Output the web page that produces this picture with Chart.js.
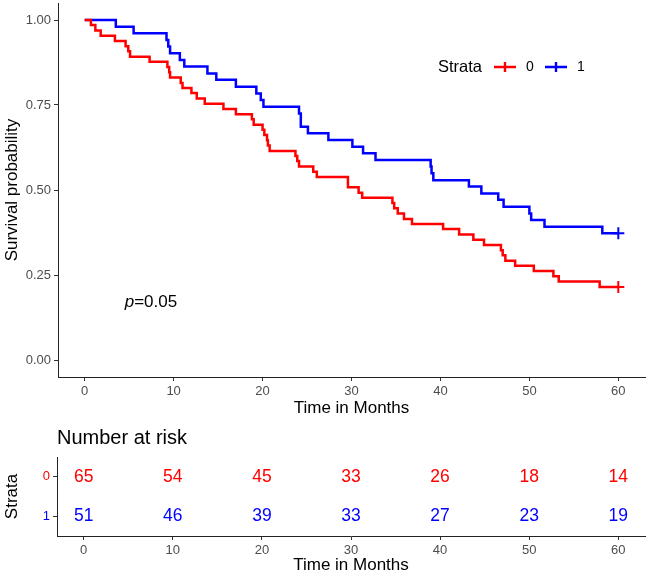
<!DOCTYPE html>
<html>
<head>
<meta charset="utf-8">
<script src="https://cdn.jsdelivr.net/npm/chart.js@4.4.1/dist/chart.umd.min.js"></script>
<style>
  html, body { margin: 0; padding: 0; background: #fff; }
  .box { position: relative; width: 649px; }
</style>
</head>
<body>
<div class="box" style="height:420px"><canvas id="kmChart"></canvas></div>
<div class="box" style="height:156px"><canvas id="riskChart"></canvas></div>
<script>
const strataNames = ["0", "1"];
const strataColors = ["#FF0000", "#0000FF"];

// strata 0: time of each step (months) and survival after it
const timesStrata0 = [0, 0.7, 1.2, 1.8, 3.4, 4.6, 4.9, 5.1, 7.3, 9.3, 9.5, 9.6, 10.8, 11.0, 12.0, 12.6, 13.5, 15.6, 17.0, 18.8, 19.0,
  20.0, 20.2, 20.5, 20.6, 20.8, 23.7, 23.9, 24.1, 25.7, 26.1, 29.6, 30.8, 31.2, 34.6, 34.8, 35.2, 35.9, 36.8,
  40.3, 42.1, 43.7, 44.9, 46.8, 47.0, 47.3, 48.4, 50.5, 52.7, 53.3, 57.9, 60];
const survStrata0 = [1, 0.985, 0.969, 0.954, 0.938, 0.923, 0.908, 0.892, 0.877, 0.862, 0.846, 0.831, 0.815, 0.800, 0.785, 0.769, 0.754, 0.738, 0.723, 0.708, 0.692,
  0.677, 0.662, 0.646, 0.631, 0.615, 0.600, 0.585, 0.569, 0.554, 0.538, 0.508, 0.492, 0.477, 0.462, 0.446, 0.431, 0.415, 0.400,
  0.385, 0.369, 0.354, 0.338, 0.323, 0.308, 0.292, 0.277, 0.262, 0.246, 0.231, 0.215, 0.215];

// strata 1
const timesStrata1 = [0, 3.5, 5.5, 9.2, 9.4, 9.6, 10.7, 11.2, 13.8, 14.8, 17.0, 19.3, 19.8, 20.1, 24.1, 24.3, 25.1, 27.4,
  30.1, 31.3, 32.7, 38.9, 39.0, 39.2, 43.2, 44.6, 46.5, 47.1, 50.0, 50.2, 51.7, 58.2, 60];
const survStrata1 = [1, 0.980, 0.961, 0.941, 0.922, 0.902, 0.882, 0.863, 0.843, 0.824, 0.804, 0.784, 0.765, 0.745, 0.725, 0.686, 0.667, 0.647,
  0.627, 0.608, 0.588, 0.569, 0.549, 0.529, 0.510, 0.490, 0.471, 0.451, 0.431, 0.412, 0.392, 0.373, 0.373];

const xTicks = [0, 10, 20, 30, 40, 50, 60];
const yTicks = [0, 0.25, 0.5, 0.75, 1];
const yTickLabels = ["0.00", "0.25", "0.50", "0.75", "1.00"];

// number at risk table
const riskTimes = [0, 10, 20, 30, 40, 50, 60];
const riskStrata0 = [65, 54, 45, 33, 26, 18, 14];
const riskStrata1 = [51, 46, 39, 33, 27, 23, 19];

const pValue = "0.05";

const FONT = "'Liberation Sans', Arial, sans-serif";
Chart.defaults.font.family = FONT;

const tickColor = "#4D4D4D";
const axisLine = { display: true, color: "#222", width: 1 };
const tickMarks = { display: true, drawOnChartArea: false, drawTicks: true, tickLength: 4, color: "#333", lineWidth: 1, offset: false };

function toPoints(times, surv) {
  return times.map((t, i) => ({ x: t, y: surv[i] }));
}

function lastOnly(size) {
  return ctx => ctx.dataIndex === ctx.dataset.data.length - 1 ? size : 0;
}

function xScale(height, titlePad) {
  return {
    type: "linear",
    min: -3,
    max: 63,
    afterBuildTicks: s => { s.ticks = xTicks.map(v => ({ value: v })); },
    afterFit: s => { s.height = height; s.paddingLeft = 0; s.paddingRight = 0; },
    border: axisLine,
    grid: tickMarks,
    ticks: { color: tickColor, font: { size: 13 }, padding: 3, maxRotation: 0 },
    title: { display: true, text: "Time in Months", color: "#000", font: { size: 17 }, padding: { top: 0, bottom: titlePad } }
  };
}

// legend + p-value drawn inside the plot
const kmExtras = {
  id: "kmExtras",
  afterDraw(chart) {
    const ctx = chart.ctx;
    ctx.save();
    ctx.textBaseline = "middle";
    ctx.textAlign = "left";
    ctx.fillStyle = "#000";
    ctx.font = "16.5px " + FONT;
    const ly = 67;
    ctx.fillText("Strata", 438, ly);

    const keyX = [494, 545];
    ctx.font = "14px " + FONT;
    strataNames.forEach((name, k) => {
      const x0 = keyX[k];
      ctx.strokeStyle = strataColors[k];
      ctx.lineWidth = 2.4;
      ctx.beginPath();
      ctx.moveTo(x0, ly);
      ctx.lineTo(x0 + 22, ly);
      ctx.moveTo(x0 + 11, ly - 5);
      ctx.lineTo(x0 + 11, ly + 5);
      ctx.stroke();
      ctx.fillStyle = "#000";
      ctx.fillText(name, x0 + 32, ly);
    });

    // p-value
    const px = chart.scales.x.getPixelForValue(4.5);
    const py = chart.scales.y.getPixelForValue(0.17);
    ctx.font = "italic 17px " + FONT;
    ctx.fillText("p", px, py);
    const w = ctx.measureText("p").width;
    ctx.font = "17px " + FONT;
    ctx.fillText("=" + pValue, px + w, py);
    ctx.restore();
  }
};

const survSets = [
  toPoints(timesStrata0, survStrata0),
  toPoints(timesStrata1, survStrata1)
];

new Chart(document.getElementById("kmChart"), {
  type: "line",
  data: {
    datasets: strataNames.map((name, k) => ({
      label: name,
      data: survSets[k],
      borderColor: strataColors[k],
      backgroundColor: strataColors[k],
      borderWidth: 2.5,
      stepped: "before",
      fill: false,
      pointStyle: "cross",
      pointRadius: lastOnly(6),
      pointBorderWidth: 2,
      pointBorderColor: strataColors[k],
      pointHoverRadius: 0
    }))
  },
  options: {
    responsive: true,
    maintainAspectRatio: false,
    animation: false,
    layout: { autoPadding: false, padding: { left: 0, right: 4, top: 3, bottom: 0 } },
    plugins: { legend: { display: false }, tooltip: { enabled: false } },
    scales: {
      x: xScale(43, 1),
      y: {
        min: -0.05,
        max: 1.05,
        afterBuildTicks: s => { s.ticks = yTicks.map(v => ({ value: v })); },
        afterFit: s => { s.width = 58; s.paddingTop = 0; s.paddingBottom = 0; },
        border: axisLine,
        grid: tickMarks,
        ticks: {
          color: tickColor,
          font: { size: 13 },
          padding: 3,
          callback: (v, i) => yTickLabels[i]
        },
        title: { display: true, text: "Survival probability", color: "#000", font: { size: 17 }, padding: { top: 2, bottom: 0 } }
      }
    }
  },
  plugins: [kmExtras]
});

// risk table: numbers written at each point position
const riskCounts = [riskStrata0, riskStrata1];

const riskLabels = {
  id: "riskLabels",
  afterDatasetsDraw(chart) {
    const ctx = chart.ctx;
    ctx.save();
    ctx.font = "17.5px " + FONT;
    ctx.textAlign = "center";
    ctx.textBaseline = "middle";
    chart.data.datasets.forEach((ds, k) => {
      chart.getDatasetMeta(k).data.forEach((pt, i) => {
        ctx.fillStyle = strataColors[k];
        ctx.fillText(String(riskCounts[k][i]), pt.x, pt.y);
      });
    });
    ctx.restore();
  }
};

new Chart(document.getElementById("riskChart"), {
  type: "scatter",
  data: {
    datasets: strataNames.map((name, k) => ({
      label: name,
      data: riskTimes.map(t => ({ x: t, y: name })),
      pointRadius: 0,
      pointHoverRadius: 0
    }))
  },
  options: {
    responsive: true,
    maintainAspectRatio: false,
    animation: false,
    layout: { autoPadding: false, padding: { left: 0, right: 4, top: 0, bottom: 0 } },
    plugins: {
      legend: { display: false },
      tooltip: { enabled: false },
      title: {
        display: true,
        text: "Number at risk",
        align: "start",
        fullSize: false,
        color: "#000",
        font: { size: 20, weight: "normal" },
        padding: { top: 6, bottom: 7 }
      }
    },
    scales: {
      x: xScale(40, 0),
      y: {
        type: "category",
        labels: strataNames,
        offset: true,
        afterFit: s => { s.width = 57; s.paddingTop = 0; s.paddingBottom = 0; },
        border: axisLine,
        grid: tickMarks,
        ticks: {
          color: ctx => strataColors[ctx.index],
          font: { size: 13 },
          padding: 3
        },
        title: { display: true, text: "Strata", color: "#000", font: { size: 17 }, padding: { top: 2, bottom: 0 } }
      }
    }
  },
  plugins: [riskLabels]
});
</script>
</body>
</html>
